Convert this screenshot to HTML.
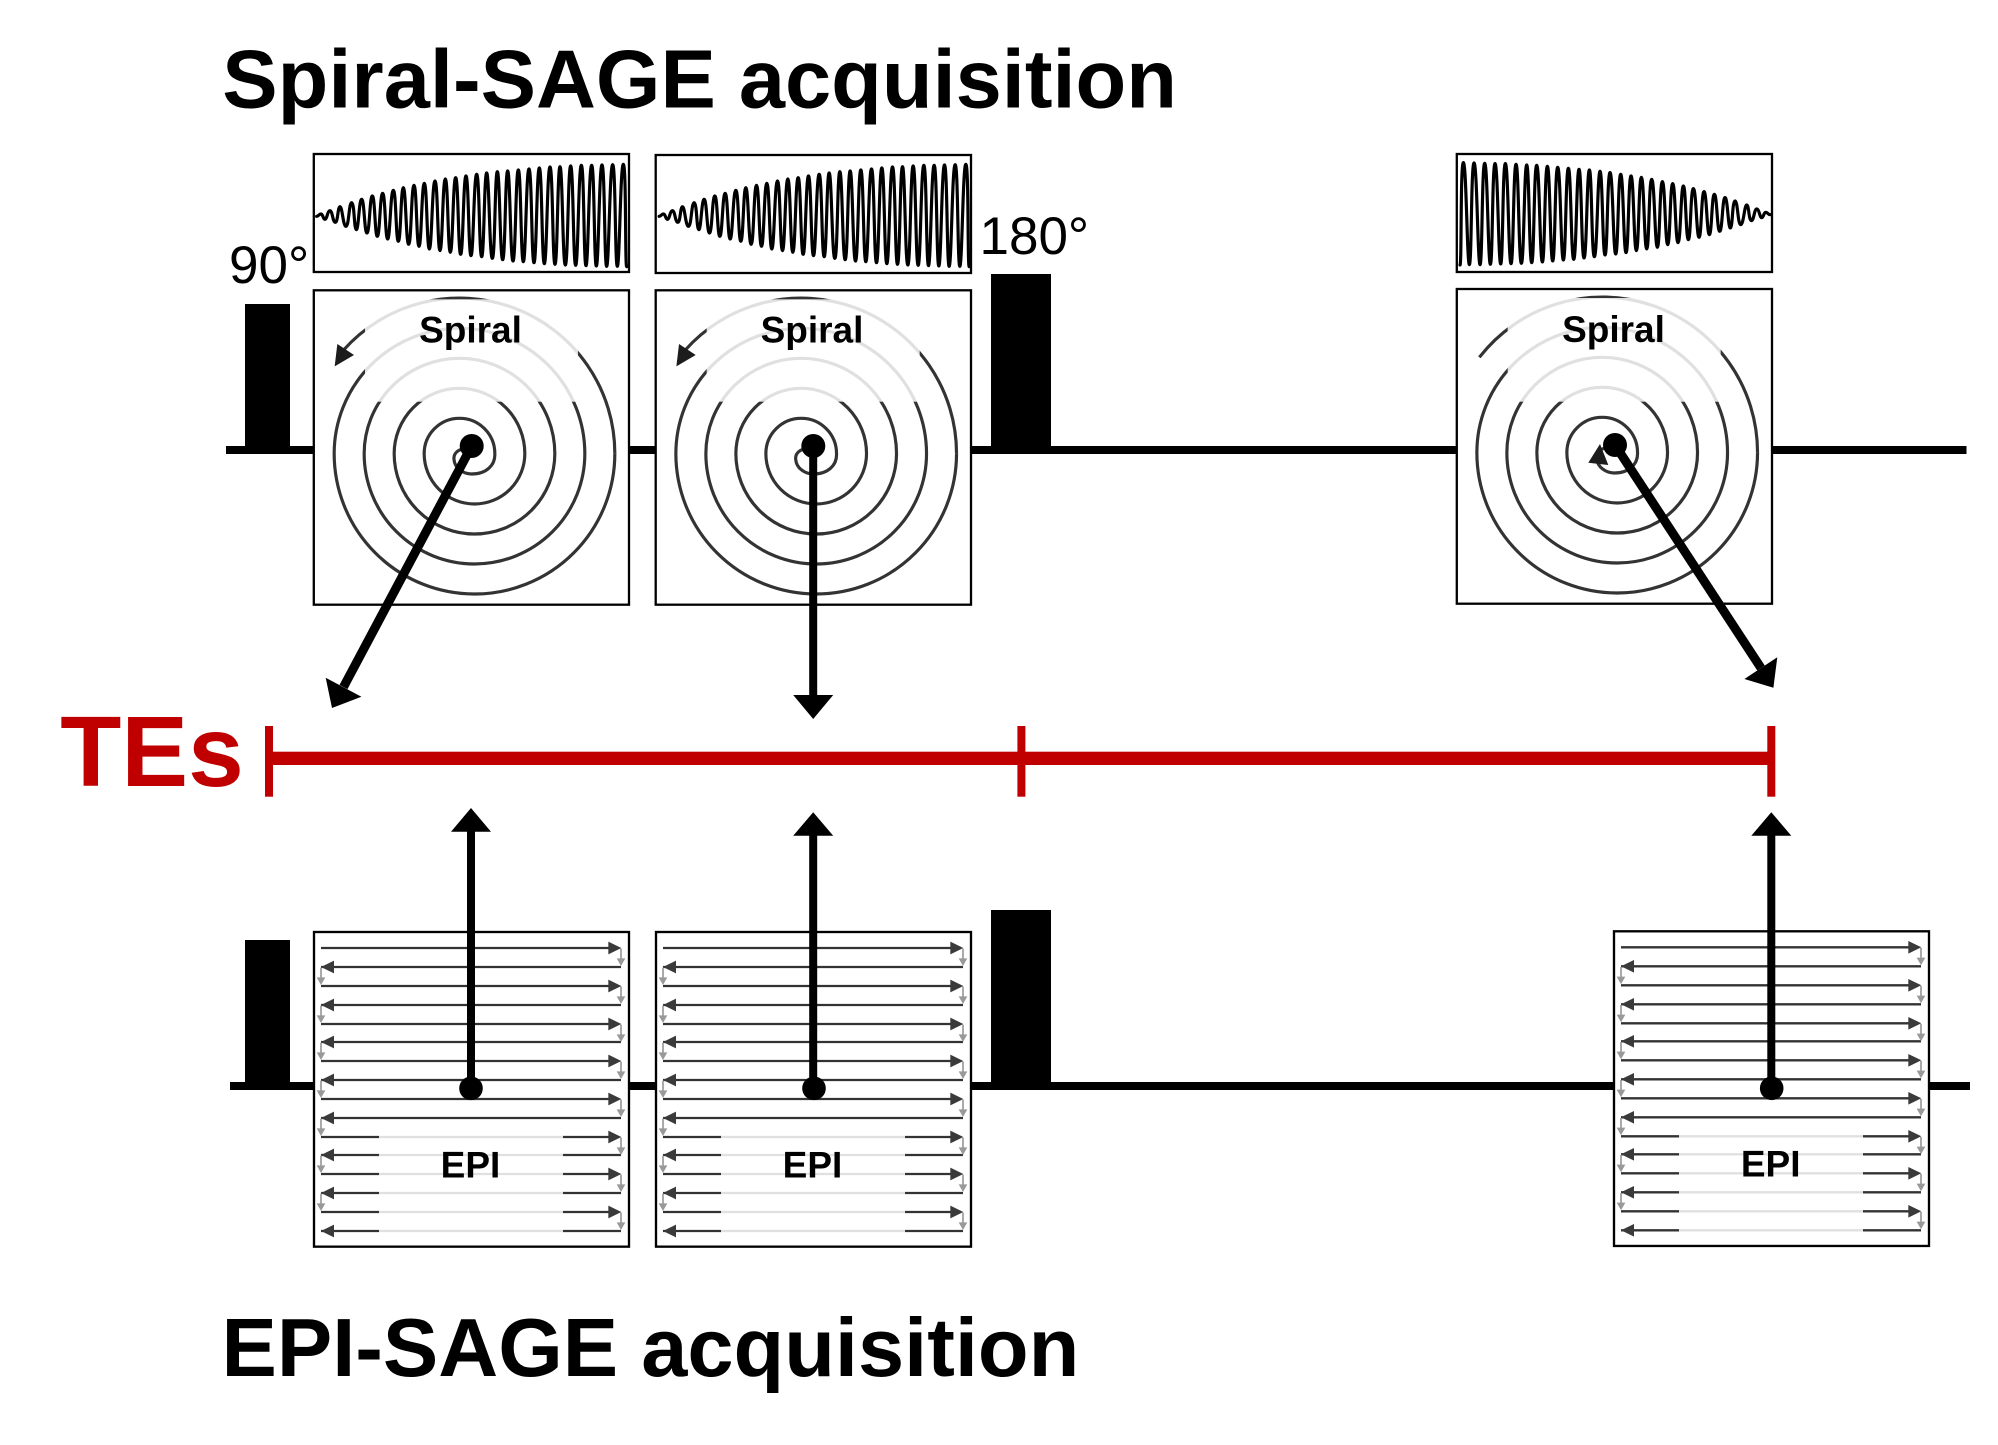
<!DOCTYPE html>
<html>
<head>
<meta charset="utf-8">
<title>Spiral-SAGE and EPI-SAGE acquisition</title>
<style>
html,body{margin:0;padding:0;background:#fff;}
svg{display:block;}
text{font-family:"Liberation Sans",sans-serif;}
</style>
</head>
<body>
<svg xmlns="http://www.w3.org/2000/svg" width="1998" height="1445" viewBox="0 0 1998 1445">
<defs>
  <path id="wave" fill="none" stroke="#000" stroke-width="9.5" stroke-linejoin="round" stroke-linecap="round" d="M290 229C296 229 297 222 303 222S309 238 315 238S322.5 212 330 212S338 247 346 247S353 200 360 200S369 259 378 259S386.5 188 395 188S402 269 409 269S417 178 425 178S433 279 441 279S449 168 457 168S464.5 289 472 289S480 160 488 160S495.5 297 503 297S511.5 151 520 151S527.5 304 535 304S542.5 143 550 143S558 313 566 313S574 136 582 136S589.5 319 597 319S605 130 613 130S620.5 327 628 327S636.5 123 645 123S652.5 332 660 332S668 117 676 117S683.5 337 691 337S699 113 707 113S714.5 343 722 343S730 108 738 108S745.5 347 753 347S761.5 103 770 103S777.5 350 785 350S792.5 99 800 99S808.5 355 817 355S824.5 95 832 95S840 359 848 359S855.5 93 863 93S871 363 879 363S887 90 895 90S902.5 365 910 365S918.5 87 927 87S934.5 368 942 368S950 84 958 84S965.5 371 973 371S981.5 81 990 81S997.5 373 1005 373S1012.5 80 1020 80S1028 375 1036 375S1044 78 1052 78S1059.5 376 1067 376S1075.5 76 1084 76S1091 377 1098 377S1106.5 76 1115 76S1122 378 1129 378S1137.5 75 1146 75S1153 379 1160 379S1169 74 1178 74S1185 379 1192 379S1201 73 1210 73S1215 380 1220 380"/>
  <path id="spiralcore" fill="none" stroke="#333" stroke-width="9.5" d="M745 925C715 925 700 940 702 958C704 985 730 1002 755 1002C800 1002 826 975 824.5 941A106 106 0 0 0 612.5 941A151 151 0 0 0 914.5 941A196 196 0 0 0 522.5 941A241 241 0 0 0 1004.5 941A286 286 0 0 0 432.5 941A331 331 0 0 0 1094.5 941A376 376 0 0 0 342.5 941A421 421 0 0 0 1184.5 941"/>
  <g id="epi">
    <rect x="42" y="6" width="945" height="944" fill="#fff" stroke="#000" stroke-width="7"/>
    <path fill="none" stroke="#333" stroke-width="7" d="M63 54H930M63 111H963M63 168H930M63 225H963M63 282H930M63 336H963M63 393H930M63 450H963M63 507H930M63 564H963M63 621H930M63 675H963M63 732H930M63 789H963M63 846H930M63 903H963"/>
    <path fill="#3a3a3a" d="M925 35L964 54L925 73ZM925 149L964 168L925 187ZM925 263L964 282L925 301ZM925 374L964 393L925 412ZM925 488L964 507L925 526ZM925 602L964 621L925 640ZM925 713L964 732L925 751ZM925 827L964 846L925 865ZM63 111L102 92V130ZM63 225L102 206V244ZM63 336L102 317V355ZM63 450L102 431V469ZM63 564L102 545V583ZM63 675L102 656V694ZM63 789L102 770V808ZM63 903L102 884V922Z"/>
    <path fill="none" stroke="#999" stroke-width="5" d="M963 56V86M963 170V200M963 284V314M963 395V425M963 509V539M963 623V653M963 734V764M963 848V878M63 113V143M63 227V257M63 338V368M63 452V482M63 566V596M63 677V707M63 791V821"/>
    <path fill="#999" d="M950 85H976L963 108ZM950 199H976L963 222ZM950 313H976L963 336ZM950 424H976L963 447ZM950 538H976L963 561ZM950 652H976L963 675ZM950 763H976L963 786ZM950 877H976L963 900ZM50 142H76L63 165ZM50 256H76L63 279ZM50 367H76L63 390ZM50 481H76L63 504ZM50 595H76L63 618ZM50 706H76L63 729ZM50 820H76L63 843Z"/>
    <rect x="237" y="610" width="552" height="305" fill="#fff" fill-opacity="0.85"/>
  </g>
</defs>

<rect width="1998" height="1445" fill="#fff"/>

<!-- Titles -->
<text x="222.3" y="107.3" font-size="83" font-weight="700" fill="#000">Spiral-SAGE acquisition</text>
<text x="221.5" y="1376" font-size="83" font-weight="700" fill="#000">EPI-SAGE acquisition</text>

<!-- Upper baseline and pulses -->
<rect x="226" y="446" width="1740.5" height="8" fill="#000"/>
<rect x="245" y="304" width="45" height="146" fill="#000"/>
<rect x="991" y="274" width="60" height="176" fill="#000"/>
<text x="229" y="283" font-size="53" fill="#000">90°</text>
<text x="979.5" y="254" font-size="53" fill="#000">180°</text>

<!-- Lower baseline and pulses -->
<rect x="230" y="1082" width="1740" height="8" fill="#000"/>
<rect x="245" y="940" width="45" height="146" fill="#000"/>
<rect x="991" y="910" width="60" height="176" fill="#000"/>

<!-- Spiral column 1 -->
<rect x="313.8" y="154" width="315.2" height="118" fill="#fff" stroke="#000" stroke-width="2.3"/>
<rect x="313.8" y="290.3" width="315.2" height="314.4" fill="#fff" stroke="#000" stroke-width="2.3"/>
<g transform="translate(220 140) scale(0.33333)">
  <use href="#wave"/>
  <use href="#spiralcore"/>
  <path fill="none" stroke="#333" stroke-width="9.5" d="M1184.5 941A466 466 0 0 0 369 632"/>
  <path fill="#1c1c1c" d="M344 679L352 612L402 645Z"/>
</g>
<rect x="365" y="299.3" width="213" height="102.4" fill="#fff" fill-opacity="0.85"/>
<text x="470.5" y="342.7" font-size="37" font-weight="700" text-anchor="middle" fill="#000">Spiral</text>

<!-- Spiral column 2 -->
<rect x="655.7" y="155" width="315.3" height="118" fill="#fff" stroke="#000" stroke-width="2.3"/>
<rect x="655.7" y="290.3" width="315.3" height="314.4" fill="#fff" stroke="#000" stroke-width="2.3"/>
<g transform="translate(562.5 140) scale(0.33333)"><use href="#wave"/></g>
<g transform="translate(561.7 140) scale(0.33333)">
  <use href="#spiralcore"/>
  <path fill="none" stroke="#333" stroke-width="9.5" d="M1184.5 941A466 466 0 0 0 369 632"/>
  <path fill="#1c1c1c" d="M344 679L352 612L402 645Z"/>
</g>
<rect x="706.7" y="299.3" width="213" height="102.4" fill="#fff" fill-opacity="0.85"/>
<text x="812" y="342.7" font-size="37" font-weight="700" text-anchor="middle" fill="#000">Spiral</text>

<!-- Spiral column 3 -->
<rect x="1456.8" y="154" width="315.2" height="118" fill="#fff" stroke="#000" stroke-width="2.3"/>
<rect x="1456.8" y="289" width="315.2" height="314.7" fill="#fff" stroke="#000" stroke-width="2.3"/>
<g transform="translate(1866.7 138.3) scale(-0.33333 0.33333)"><use href="#wave"/></g>
<g transform="translate(1362.7 139) scale(0.33333)">
  <use href="#spiralcore"/>
  <path fill="none" stroke="#333" stroke-width="9.5" d="M1184.5 941A466 466 0 0 0 350 655"/>
</g>
<path fill="#1c1c1c" d="M1600 444L1588.3 462.7L1608.3 465Z"/>
<rect x="1507.7" y="298" width="213" height="103.7" fill="#fff" fill-opacity="0.85"/>
<text x="1613.5" y="342" font-size="37" font-weight="700" text-anchor="middle" fill="#000">Spiral</text>

<!-- EPI boxes -->
<g transform="translate(300 930) scale(0.33333)"><use href="#epi"/></g>
<g transform="translate(642 930) scale(0.33333)"><use href="#epi"/></g>
<g transform="translate(1600 929.3) scale(0.33333)"><use href="#epi"/></g>
<text x="470.5" y="1177.3" font-size="37" font-weight="700" text-anchor="middle" fill="#000">EPI</text>
<text x="812.5" y="1177.3" font-size="37" font-weight="700" text-anchor="middle" fill="#000">EPI</text>
<text x="1770.7" y="1176.7" font-size="37" font-weight="700" text-anchor="middle" fill="#000">EPI</text>

<!-- TEs timeline -->
<text x="60.3" y="786" font-size="100" font-weight="700" fill="#c00000">TEs</text>
<rect x="269" y="751.7" width="1502.3" height="13.3" fill="#c00000"/>
<rect x="265" y="726" width="8" height="70.7" fill="#c00000"/>
<rect x="1017.4" y="726" width="8" height="70.7" fill="#c00000"/>
<rect x="1767.3" y="726" width="8" height="70.7" fill="#c00000"/>

<!-- Top arrows -->
<line x1="471.7" y1="446" x2="343.5" y2="687" stroke="#000" stroke-width="9"/>
<path fill="#000" d="M332 708L325.7 677.7L361.4 696.7Z"/>
<circle cx="471.7" cy="446" r="12" fill="#000"/>
<line x1="813.2" y1="446" x2="813.2" y2="696" stroke="#000" stroke-width="8"/>
<path fill="#000" d="M793.2 695H833.2L813.2 719Z"/>
<circle cx="813.3" cy="446" r="12" fill="#000"/>
<line x1="1615" y1="445" x2="1761" y2="668" stroke="#000" stroke-width="9"/>
<path fill="#000" d="M1773.4 687.7L1777.3 657.3L1744.4 679Z"/>
<circle cx="1615" cy="445" r="12" fill="#000"/>

<!-- Bottom arrows -->
<line x1="471" y1="830" x2="471" y2="1088" stroke="#000" stroke-width="8"/>
<path fill="#000" d="M451 831.7H491L471 808Z"/>
<circle cx="471" cy="1088.3" r="11.8" fill="#000"/>
<line x1="813.2" y1="834" x2="813.2" y2="1088" stroke="#000" stroke-width="8"/>
<path fill="#000" d="M793.2 835.7H833.2L813.2 812.3Z"/>
<circle cx="814" cy="1088.3" r="11.8" fill="#000"/>
<line x1="1771.3" y1="834" x2="1771.3" y2="1088" stroke="#000" stroke-width="8"/>
<path fill="#000" d="M1751.3 835.7H1791.3L1771.3 812.3Z"/>
<circle cx="1771.7" cy="1088.3" r="11.8" fill="#000"/>
</svg>
</body>
</html>
